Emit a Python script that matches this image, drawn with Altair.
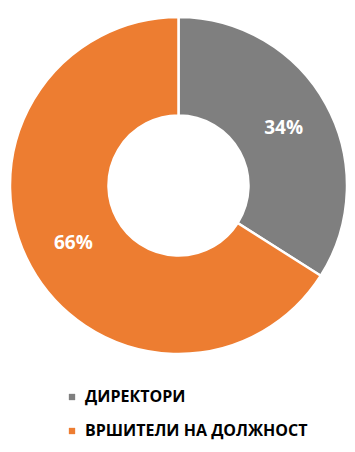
import altair as alt
import pandas as pd

categories = ["ДИРЕКТОРИ", "ВРШИТЕЛИ НА ДОЛЖНОСТ"]
values = [34, 66]
labels = ["34%", "66%"]
colors = ["#7F7F7F", "#ED7D31"]
order = [0, 1]

df = pd.DataFrame({"cat": categories, "val": values, "label": labels, "ord": order})

cx, cy = 170.5, 177.5

base = alt.Chart(df).encode(
    theta=alt.Theta("val:Q", stack=True),
    order=alt.Order("ord:Q"),
)

arcs = base.mark_arc(innerRadius=70, outerRadius=168.5, stroke="white", strokeWidth=2.5).encode(
    x=alt.value(cx),
    y=alt.value(cy),
    color=alt.Color(
        "cat:N",
        scale=alt.Scale(domain=categories, range=colors),
        sort=categories,
        legend=alt.Legend(
            title=None,
            orient="none",
            legendX=56,
            legendY=381,
            symbolType="square",
            symbolSize=40,
            symbolStrokeWidth=0,
            labelFont="Open Sans",
            labelFontWeight="bold",
            labelFontSize=16,
            labelColor="#000000",
            labelOffset=5,
            rowPadding=18,
            labelLimit=400,
        ),
    ),
)

text = base.mark_text(
    radius=120, font="Open Sans", fontWeight="bold", fontSize=19, color="white"
).encode(
    x=alt.value(cx),
    y=alt.value(cy),
    text="label:N",
)

chart = (
    alt.layer(arcs, text)
    .properties(width=339, height=436, padding=0, autosize=alt.AutoSizeParams(type="none"))
    .configure_view(stroke=None)
)

chart.save("out.html", embed_options={"renderer": "svg", "actions": False})
